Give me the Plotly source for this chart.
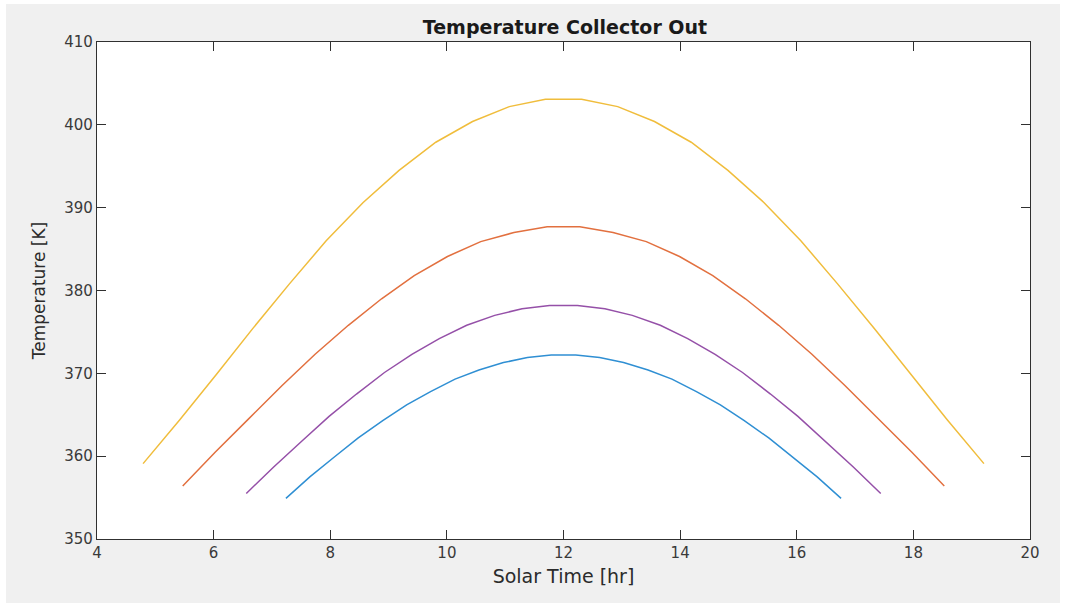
import plotly.graph_objects as go

# Solar time [hr] and collector outlet temperature [K] for four days
time_a = [4.79, 5.42, 6.05, 6.67, 7.30, 7.93, 8.56, 9.18, 9.81, 10.44, 11.07, 11.69,
          12.31, 12.93, 13.56, 14.19, 14.82, 15.44, 16.07, 16.70, 17.33, 17.95, 18.58, 19.21]
temp_a = [359.1, 364.4, 369.9, 375.4, 380.8, 386.0, 390.6, 394.5, 397.9, 400.4, 402.2, 403.1,
          403.1, 402.2, 400.4, 397.9, 394.5, 390.6, 386.0, 380.8, 375.4, 369.9, 364.4, 359.1]

time_b = [5.47, 6.03, 6.60, 7.17, 7.74, 8.31, 8.88, 9.44, 10.01, 10.58, 11.15, 11.72,
          12.28, 12.85, 13.42, 13.99, 14.56, 15.12, 15.69, 16.26, 16.83, 17.40, 17.97, 18.53]
temp_b = [356.4, 360.5, 364.5, 368.5, 372.3, 375.8, 379.0, 381.8, 384.1, 385.9, 387.0, 387.7,
          387.7, 387.0, 385.9, 384.1, 381.8, 379.0, 375.8, 372.3, 368.5, 364.5, 360.5, 356.4]

time_c = [6.56, 7.03, 7.51, 7.98, 8.45, 8.93, 9.40, 9.87, 10.34, 10.82, 11.29, 11.76,
          12.24, 12.71, 13.18, 13.66, 14.13, 14.60, 15.07, 15.55, 16.02, 16.49, 16.97, 17.44]
temp_c = [355.5, 358.7, 361.8, 364.8, 367.5, 370.1, 372.3, 374.2, 375.8, 377.0, 377.8, 378.2,
          378.2, 377.8, 377.0, 375.8, 374.2, 372.3, 370.1, 367.5, 364.8, 361.8, 358.7, 355.5]

time_d = [7.24, 7.65, 8.07, 8.48, 8.90, 9.31, 9.72, 10.14, 10.55, 10.97, 11.38, 11.79,
          12.21, 12.62, 13.03, 13.45, 13.86, 14.28, 14.69, 15.10, 15.52, 15.93, 16.35, 16.76]
temp_d = [354.9, 357.5, 359.9, 362.2, 364.3, 366.2, 367.8, 369.3, 370.4, 371.3, 371.9, 372.2,
          372.2, 371.9, 371.3, 370.4, 369.3, 367.8, 366.2, 364.3, 362.2, 359.9, 357.5, 354.9]

x_ticks = [4, 6, 8, 10, 12, 14, 16, 18, 20]
y_ticks = [350, 360, 370, 380, 390, 400, 410]

# drawing order follows MATLAB's default colour order
series = [
    (time_d, temp_d, "#2f8fd3"),
    (time_b, temp_b, "#e2703f"),
    (time_a, temp_a, "#f0bd3c"),
    (time_c, temp_c, "#9550a8"),
]

fig = go.Figure()
for xs, ys, col in series:
    fig.add_trace(go.Scatter(x=xs, y=ys, mode="lines",
                             line=dict(color=col, width=1.5), showlegend=False))

FONT = "DejaVu Sans"
TXT = "#2b2b2b"

axis_common = dict(
    showgrid=False, zeroline=False, showline=True, linecolor="#303030", linewidth=1.2,
    mirror="ticks", ticks="inside", ticklen=9, tickwidth=1.1, tickcolor="#303030",
    tickfont=dict(family=FONT, size=15, color="#3a3a3a"),
)

fig.update_layout(
    width=1065, height=605,
    margin=dict(l=97, r=35, t=42, b=66),
    paper_bgcolor="white",
    plot_bgcolor="white",
    title=dict(text="<b>Temperature Collector Out</b>", x=0.5305, xanchor="center",
               y=1 - 27 / 605, yanchor="middle", yref="container",
               font=dict(family=FONT, size=19, color="#1a1a1a")),
    xaxis=dict(range=[4, 20], tickvals=x_ticks, ticktext=[str(v) for v in x_ticks],
               title=dict(text="Solar Time [hr]", standoff=8,
                          font=dict(family=FONT, size=19, color=TXT)),
               **axis_common),
    yaxis=dict(range=[350, 410], tickvals=y_ticks, ticktext=[str(v) for v in y_ticks],
               title=dict(text="Temperature [K]", standoff=14,
                          font=dict(family=FONT, size=17, color=TXT)),
               **axis_common),
    shapes=[
        # grey figure window behind the axes
        dict(type="rect", xref="paper", yref="paper", layer="below",
             x0=(6 - 97) / 933, x1=(1060 - 97) / 933,
             y0=-(603 - 539) / 497, y1=1 + (42 - 4) / 497,
             fillcolor="#f0f0f0", line=dict(width=0)),
        # white axes area
        dict(type="rect", xref="paper", yref="paper", layer="below",
             x0=0, x1=1, y0=0, y1=1, fillcolor="white", line=dict(width=0)),
    ],
)

fig.write_html("out.html")
